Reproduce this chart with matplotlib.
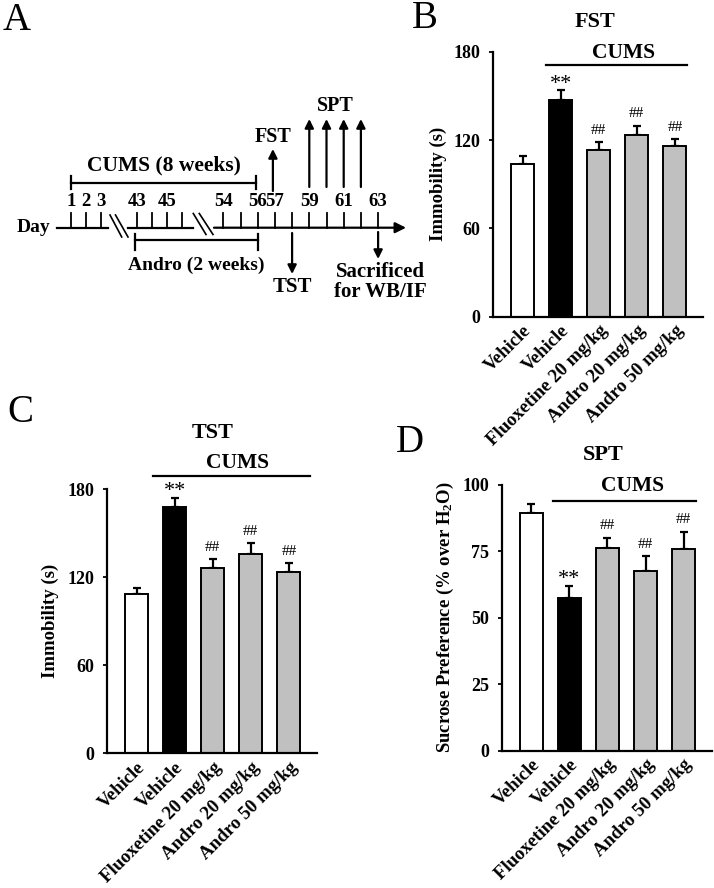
import matplotlib
matplotlib.use("Agg")
import matplotlib.pyplot as plt
import numpy as np

plt.rcParams['font.family'] = ['Liberation Serif', 'DejaVu Serif']
plt.rcParams['mathtext.fontset'] = 'custom'
plt.rcParams['mathtext.rm'] = 'Liberation Serif:bold'
plt.rcParams['mathtext.it'] = 'Liberation Serif:bold'
plt.rcParams['mathtext.bf'] = 'Liberation Serif:bold'

# ---------------- data ----------------
groups = ["Vehicle", "Vehicle", "Fluoxetine 20 mg/kg", "Andro 20 mg/kg", "Andro 50 mg/kg"]
bar_colors = ["white", "black", "#c0c0c0", "#c0c0c0", "#c0c0c0"]

fst_mean = [103.9, 146.9, 113.2, 123.1, 115.7]
fst_err = [5.1, 7.1, 5.5, 6.6, 5.0]

tst_mean = [108.3, 167.6, 126.4, 135.5, 123.5]
tst_err = [4.5, 6.5, 5.7, 7.7, 5.9]

spt_mean = [89.2, 57.2, 76.1, 67.6, 75.9]
spt_err = [3.5, 4.8, 3.9, 5.4, 6.4]

sig_marks = ["", "**", "##", "##", "##"]

# timeline
day_labels = [1, 2, 3, 43, 45, 54, 56, 57, 59, 61, 63]
seg1_days = [1, 2, 3]
seg2_days = [43, 44, 45, 46]
seg3_days = list(range(54, 64))
spt_days = [59, 60, 61, 62]

W, H = 714, 888
fig = plt.figure(figsize=(W / 100, H / 100), dpi=100)

def add_ax(l, r, t, b):
    return fig.add_axes([l / W, 1 - b / H, (r - l) / W, (b - t) / H])

BOLD = dict(fontweight='bold')

def bar_panel(ax, means, errs, ymax, yticks, ylabel, title, title_x, title_y, cums_y,
              cums_line_y, line_x, labelpad):
    x = np.arange(len(means))
    ax.bar(x, means, width=0.6, color=bar_colors, edgecolor='black', linewidth=1.4, zorder=2)
    ax.errorbar(x, means, yerr=[np.zeros(len(errs)), errs], fmt='none', ecolor='black',
                elinewidth=1.6, capsize=3.2, capthick=1.6, zorder=1)
    ax.set_xlim(-0.78, 4.74)
    ax.set_ylim(0, ymax)
    ax.set_yticks(yticks)
    ax.set_yticklabels([str(t) for t in yticks], fontsize=13, **BOLD)
    ax.set_xticks(x)
    ax.set_xticklabels(groups, rotation=45, ha='right', rotation_mode='anchor', fontsize=13.5, **BOLD)
    ax.tick_params(axis='x', length=0, pad=4)
    ax.tick_params(axis='y', direction='out', length=3, width=1.3, pad=6)
    for s in ['top', 'right']:
        ax.spines[s].set_visible(False)
    ax.spines['left'].set_linewidth(1.6)
    ax.spines['bottom'].set_linewidth(1.6)
    ax.set_ylabel(ylabel, fontsize=13.5, **BOLD, labelpad=labelpad)
    for i, m in enumerate(sig_marks):
        if not m:
            continue
        top = means[i] + errs[i]
        if m == "**":
            ax.annotate(m, (i, top), xytext=(0, 1), textcoords='offset points', ha='center',
                        va='baseline', fontsize=16, annotation_clip=False)
        else:
            ax.annotate(m, (i, top), xytext=(0, 6), textcoords='offset points', ha='center',
                        va='baseline', fontsize=11, annotation_clip=False)
    ax.plot(line_x, [cums_line_y, cums_line_y], color='black', lw=1.6, clip_on=False)
    ax.text(2.65, cums_y, "CUMS", ha='center', va='center', fontsize=15.5, **BOLD, clip_on=False)
    ax.text(title_x, title_y, title, ha='center', va='center', fontsize=16, **BOLD, clip_on=False)

# Panel B
axB = add_ax(493, 703, 51.7, 316.7)
bar_panel(axB, fst_mean, fst_err, 180, [0, 60, 120, 180], "Immobility (s)", "FST", 1.9,
          200, 179, 171, [0.62, 4.33], 5)

# Panel C
axC = add_ax(107, 317, 489, 753.3)
bar_panel(axC, tst_mean, tst_err, 180, [0, 60, 120, 180], "Immobility (s)", "TST", 2.0,
          218, 198, 189, [0.43, 4.56], 6)

# Panel D
axD = add_ax(501.7, 711.7, 484.5, 750.5)
bar_panel(axD, spt_mean, spt_err, 100, [0, 25, 50, 75, 100],
          "Sucrose Preference (% over H$_2$O)", "SPT", 1.9, 111, 99.4, 93.8, [0.58, 4.33], 5)

# Panel letters
for lab, (px, py) in {"A": (17, 21), "B": (425, 19), "C": (20, 413), "D": (410, 442)}.items():
    fig.text(px / W, 1 - py / H, lab, fontsize=28, ha='center', va='center')

# ---------------- Panel A: timeline ----------------
axA = add_ax(0, 420, 0, 320)
axA.set_xlim(0, 420)
axA.set_ylim(320, 0)
axA.axis('off')

def day_x(d):
    if d <= 3:
        return 71 + (d - 1) * 15
    if d <= 46:
        return 136.7 + (d - 43) * 15.2
    return 223.3 + (d - 54) * 17.2

y0 = 227.7
lw = 1.6
axA.plot([57, 108], [y0, y0], color='k', lw=lw)
axA.plot([128, 193], [y0, y0], color='k', lw=lw)
axA.annotate('', xy=(406, y0), xytext=(214, y0),
             arrowprops=dict(arrowstyle='-|>', lw=lw, color='k', mutation_scale=16, shrinkA=0, shrinkB=0))
# break marks
for (xa, xb) in [(110, 121.7), (115.5, 128)]:
    axA.plot([xa, xb], [215, 237], color='k', lw=1.2)
for (xa, xb) in [(193.3, 206), (199.3, 213)]:
    axA.plot([xa, xb], [213.5, 234.5], color='k', lw=1.2)
# ticks
for d in seg1_days + seg2_days + seg3_days:
    axA.plot([day_x(d), day_x(d)], [y0, 213.3], color='k', lw=1.3)
for d in day_labels:
    axA.text(day_x(d), 202, str(d), ha='center', va='center', fontsize=13.5, **BOLD)
axA.text(33, y0, "Day", ha='center', va='center', fontsize=14, **BOLD)

# CUMS bracket
xa, xb = day_x(1), day_x(56) - 1.5
axA.plot([xa, xb], [182.7, 182.7], color='k', lw=lw)
axA.plot([xa, xa], [176, 189], color='k', lw=lw)
axA.plot([xb, xb], [176, 189], color='k', lw=lw)
axA.text((xa + xb) / 2, 165, "CUMS (8 weeks)", ha='center', va='center', fontsize=15.5, **BOLD)

# Andro bracket
xa, xb = day_x(43) - 1.5, day_x(56)
axA.plot([xa, xb], [240, 240], color='k', lw=lw)
axA.plot([xa, xa], [234, 250], color='k', lw=lw)
axA.plot([xb, xb], [234, 250], color='k', lw=lw)
axA.text((xa + xb) / 2, 265, "Andro (2 weeks)", ha='center', va='center', fontsize=14, **BOLD)

ap = dict(arrowstyle='-|>', lw=1.6, color='k', mutation_scale=13, shrinkA=0, shrinkB=0)
# FST arrow
fx = day_x(57) - 2
axA.annotate('', xy=(fx, 149), xytext=(fx, 191), arrowprops=ap)
axA.text(fx, 137, "FST", ha='center', va='center', fontsize=14.5, **BOLD)
# SPT arrows
for d in spt_days:
    axA.annotate('', xy=(day_x(d), 119), xytext=(day_x(d), 187), arrowprops=ap)
axA.text((day_x(spt_days[0]) + day_x(spt_days[-1])) / 2, 106, "SPT", ha='center', va='center',
         fontsize=14.5, **BOLD)
# TST arrow
tx = day_x(58)
axA.annotate('', xy=(tx, 274), xytext=(tx, 233), arrowprops=ap)
axA.text(tx, 287, "TST", ha='center', va='center', fontsize=15, **BOLD)
# Sacrificed
sx = day_x(63)
axA.annotate('', xy=(sx, 259), xytext=(sx, 232), arrowprops=ap)
axA.text(380, 281.7, "Sacrificed\nfor WB/IF", ha='center', va='center', fontsize=15,
         linespacing=1.0, **BOLD, clip_on=False)

fig.savefig("out.png", dpi=100)
